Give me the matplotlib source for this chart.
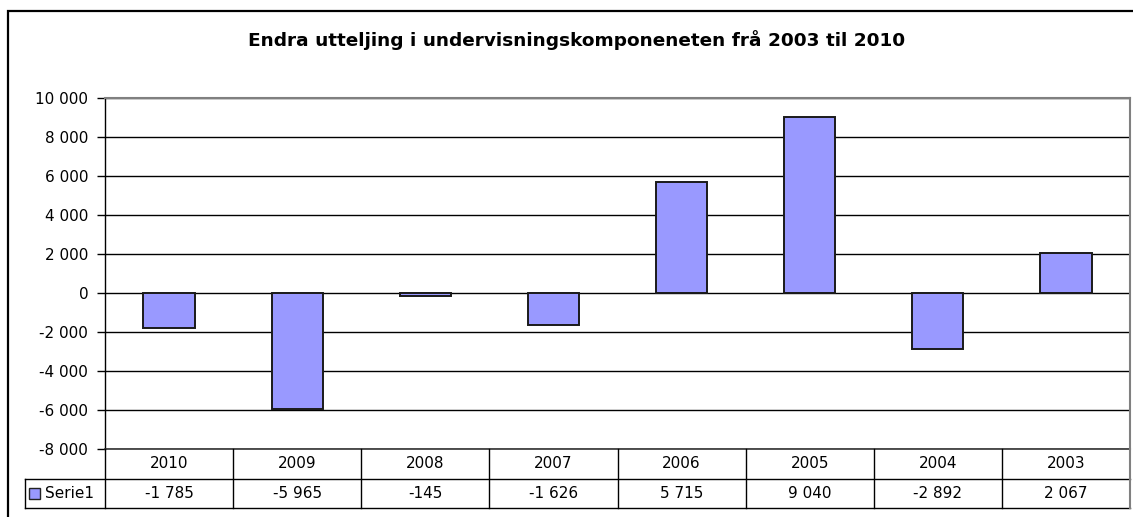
import matplotlib
matplotlib.use("Agg")
import matplotlib.pyplot as plt
from matplotlib.patches import Rectangle

years = ["2010", "2009", "2008", "2007", "2006", "2005", "2004", "2003"]
values = [-1785, -5965, -145, -1626, 5715, 9040, -2892, 2067]
value_labels = ["-1 785", "-5 965", "-145", "-1 626", "5 715", "9 040", "-2 892", "2 067"]
series_name = "Serie1"
title = "Endra utteljing i undervisningskomponeneten frå 2003 til 2010"
yticks = list(range(-8000, 10001, 2000))

plt.rcParams['font.family'] = ['DejaVu Sans']

W, H = 1133, 517
fig = plt.figure(figsize=(W / 100, H / 100), dpi=100)

def fx(px):
    return px / W

def fy(py):
    return 1 - py / H

FS = 11

# outer frame
fig.add_artist(Rectangle((fx(8), fy(600)), fx(1200), fy(11) - fy(600),
                         transform=fig.transFigure, fill=False, lw=1.6,
                         edgecolor='black'))

L, R, T, B = 105, 1130, 98, 449
ax = fig.add_axes([fx(L), fy(B), fx(R) - fx(L), fy(T) - fy(B)])
n = len(years)
xs = list(range(n))
ax.set_xlim(-0.5, n - 0.5)
ax.set_ylim(-8000, 10000)
ax.set_yticks(yticks)
ax.set_yticklabels([f"{v:,}".replace(",", " ") for v in yticks], fontsize=FS)
ax.set_xticks([])
ax.tick_params(axis='y', length=6, width=1, color='black', pad=6)
ax.yaxis.grid(True, color='black', lw=1)
ax.set_axisbelow(True)
for s in ['top', 'right']:
    ax.spines[s].set_color('#808080')
    ax.spines[s].set_linewidth(1.5)
ax.spines['left'].set_color('black')
ax.spines['left'].set_linewidth(1)
ax.spines['bottom'].set_color('#333333')
ax.spines['bottom'].set_linewidth(1.2)

ax.bar(xs, values, width=0.4, color='#9999FF', edgecolor='#1a1a1a', linewidth=1.4, zorder=3)

fig.text(fx(577), fy(40), title, ha='center', va='center', fontsize=13.3,
         fontweight='bold')

# data table
TL = 25
TB = 508
tax = fig.add_axes([fx(TL), fy(TB), fx(R) - fx(TL), fy(B) - fy(TB)])
cat_px = (R - L) / n
left_x = -0.5 - (L - TL) / cat_px
tax.set_xlim(left_x, n - 0.5)
tax.set_ylim(0, 2)
tax.axis('off')
lc = 'black'
tax.plot([left_x, n - 0.5], [1, 1], color=lc, lw=1, clip_on=False)
tax.plot([left_x, n - 0.5], [0, 0], color=lc, lw=1, clip_on=False)
tax.plot([left_x, left_x], [0, 1], color=lc, lw=1, clip_on=False)
for i in range(n):
    tax.plot([i - 0.5, i - 0.5], [0, 2], color=lc, lw=1, clip_on=False)
tax.plot([n - 0.5, n - 0.5], [0, 2], color='#808080', lw=1.5, clip_on=False)
for i, (yr, vl) in enumerate(zip(years, value_labels)):
    tax.text(i, 1.5, yr, ha='center', va='center', fontsize=FS)
    tax.text(i, 0.5, vl, ha='center', va='center', fontsize=FS)
# legend key
px_y = (B - TB) / -2.0  # pixels per y-unit (positive)
key = 11
tax.add_patch(Rectangle((left_x + 4 / cat_px, 0.5 - key / 2 / px_y), key / cat_px, key / px_y,
                        facecolor='#9999FF', edgecolor='#222222', lw=1, clip_on=False))
tax.text(left_x + 20 / cat_px, 0.5, series_name, ha='left', va='center', fontsize=FS)

fig.savefig("out.png", dpi=100)
